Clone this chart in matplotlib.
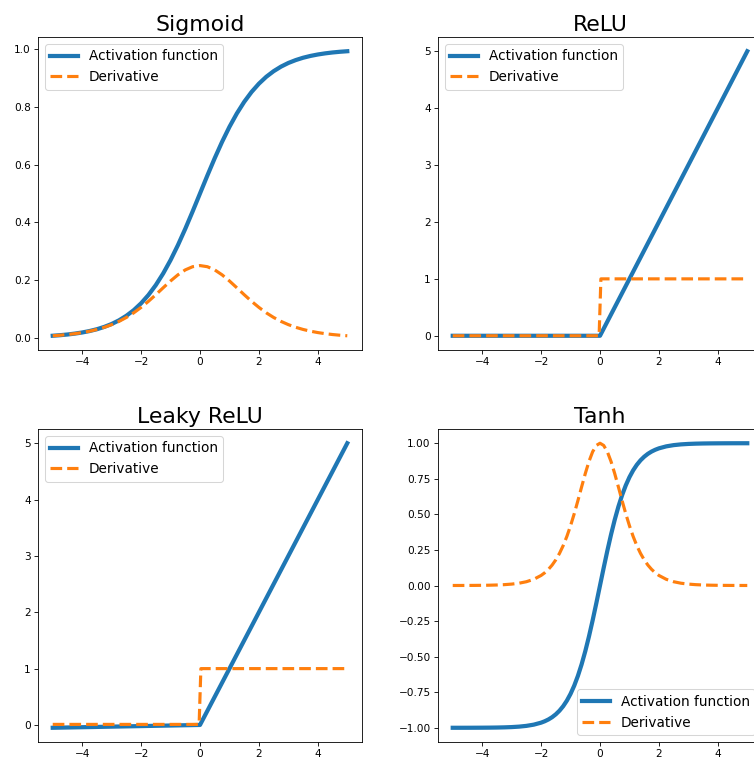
#!/usr/bin/env python
# -*- coding: utf-8 -*-

import matplotlib
matplotlib.use("Agg")
from matplotlib import pyplot as plt

# sample points for the sigmoid curves
x_sigmoid = [-5.0, -4.75, -4.5, -4.25, -4.0, -3.75, -3.5, -3.25, -3.0, -2.75,
             -2.5, -2.25, -2.0, -1.75, -1.5, -1.25, -1.0, -0.75, -0.5, -0.25,
             0.0, 0.25, 0.5, 0.75, 1.0, 1.25, 1.5, 1.75, 2.0, 2.25,
             2.5, 2.75, 3.0, 3.25, 3.5, 3.75, 4.0, 4.25, 4.5, 4.75, 5.0]

sigmoid = [0.0067, 0.0086, 0.0110, 0.0141, 0.0180, 0.0230, 0.0293, 0.0374, 0.0474, 0.0601,
           0.0759, 0.0953, 0.1192, 0.1480, 0.1824, 0.2227, 0.2689, 0.3208, 0.3775, 0.4378,
           0.5000, 0.5622, 0.6225, 0.6792, 0.7311, 0.7773, 0.8176, 0.8520, 0.8808, 0.9047,
           0.9241, 0.9399, 0.9526, 0.9626, 0.9707, 0.9770, 0.9820, 0.9859, 0.9890, 0.9914, 0.9933]
sigmoid_deriv = [0.0066, 0.0085, 0.0109, 0.0139, 0.0177, 0.0225, 0.0285, 0.0360, 0.0452, 0.0565,
                 0.0701, 0.0862, 0.1050, 0.1261, 0.1491, 0.1731, 0.1966, 0.2179, 0.2350, 0.2461,
                 0.2500, 0.2461, 0.2350, 0.2179, 0.1966, 0.1731, 0.1491, 0.1261, 0.1050, 0.0862,
                 0.0701, 0.0565, 0.0452, 0.0360, 0.0285, 0.0225, 0.0177, 0.0139, 0.0109, 0.0085, 0.0066]

# tanh is sampled more densely around the centre
x_tanh = [-5.0, -4.75, -4.5, -4.25, -4.0, -3.75, -3.5, -3.25, -3.0, -2.75, -2.5, -2.25, -2.0,
          -1.875, -1.75, -1.625, -1.5, -1.375, -1.25, -1.125, -1.0,
          -0.875, -0.75, -0.625, -0.5, -0.375, -0.25, -0.125,
          0.0,
          0.125, 0.25, 0.375, 0.5, 0.625, 0.75, 0.875,
          1.0, 1.125, 1.25, 1.375, 1.5, 1.625, 1.75, 1.875,
          2.0, 2.25, 2.5, 2.75, 3.0, 3.25, 3.5, 3.75, 4.0, 4.25, 4.5, 4.75, 5.0]
tanh = [-0.9999, -0.9999, -0.9998, -0.9996, -0.9993, -0.9989, -0.9982, -0.9970, -0.9951, -0.9919,
        -0.9866, -0.9780, -0.9640,
        -0.9540, -0.9414, -0.9254, -0.9051, -0.8798, -0.8483, -0.8093, -0.7616,
        -0.7039, -0.6351, -0.5546, -0.4621, -0.3584, -0.2449, -0.1244,
        0.0,
        0.1244, 0.2449, 0.3584, 0.4621, 0.5546, 0.6351, 0.7039,
        0.7616, 0.8093, 0.8483, 0.8798, 0.9051, 0.9254, 0.9414, 0.9540,
        0.9640, 0.9780, 0.9866, 0.9919, 0.9951, 0.9970, 0.9982, 0.9989, 0.9993, 0.9996, 0.9998,
        0.9999, 0.9999]
tanh_deriv = [0.0002, 0.0003, 0.0005, 0.0008, 0.0013, 0.0022, 0.0036, 0.0060, 0.0099, 0.0161,
              0.0266, 0.0435, 0.0707,
              0.0898, 0.1138, 0.1437, 0.1807, 0.2259, 0.2804, 0.3450, 0.4200,
              0.5045, 0.5966, 0.6924, 0.7864, 0.8715, 0.9400, 0.9845,
              1.0,
              0.9845, 0.9400, 0.8715, 0.7864, 0.6924, 0.5966, 0.5045,
              0.4200, 0.3450, 0.2804, 0.2259, 0.1807, 0.1437, 0.1138, 0.0898,
              0.0707, 0.0435, 0.0266, 0.0161, 0.0099, 0.0060, 0.0036, 0.0022, 0.0013, 0.0008, 0.0005,
              0.0003, 0.0002]

# piecewise linear functions
x_relu = [-5.0, 0.0, 5.0]
relu = [0.0, 0.0, 5.0]
leaky_relu = [-0.05, 0.0, 5.0]

x_step = [-5.0, -0.03, 0.03, 5.0]
relu_deriv = [0.0, 0.0, 1.0, 1.0]
leaky_deriv = [0.01, 0.01, 1.0, 1.0]

titles = ["Sigmoid", "ReLU", "Leaky ReLU", "Tanh"]

DPI = 75.6


def draw(ax, title, xa, ya, xd, yd, loc):
    ax.plot(xa, ya, lw=4, label="Activation function")
    ax.plot(xd, yd, lw=3, ls="--", label="Derivative")
    ax.set_title(title, fontsize=21)
    ax.legend(loc=loc, fontsize=13)


def main():
    fig = plt.figure(figsize=(754 / DPI, 762 / DPI), dpi=DPI)

    w = 324 / 754.0
    h = 313 / 762.0
    ax1 = fig.add_axes([38 / 754.0, 412 / 762.0, w, h])
    ax2 = fig.add_axes([438 / 754.0, 412 / 762.0, w, h])
    ax3 = fig.add_axes([38 / 754.0, 20 / 762.0, w, h])
    ax4 = fig.add_axes([438 / 754.0, 20 / 762.0, w, h])

    draw(ax1, titles[0], x_sigmoid, sigmoid, x_sigmoid, sigmoid_deriv, "upper left")
    draw(ax2, titles[1], x_relu, relu, x_step, relu_deriv, "upper left")
    draw(ax3, titles[2], x_relu, leaky_relu, x_step, leaky_deriv, "upper left")
    draw(ax4, titles[3], x_tanh, tanh, x_tanh, tanh_deriv, "lower right")

    fig.savefig("out.png", dpi=DPI)


if __name__ == "__main__":
    main()
